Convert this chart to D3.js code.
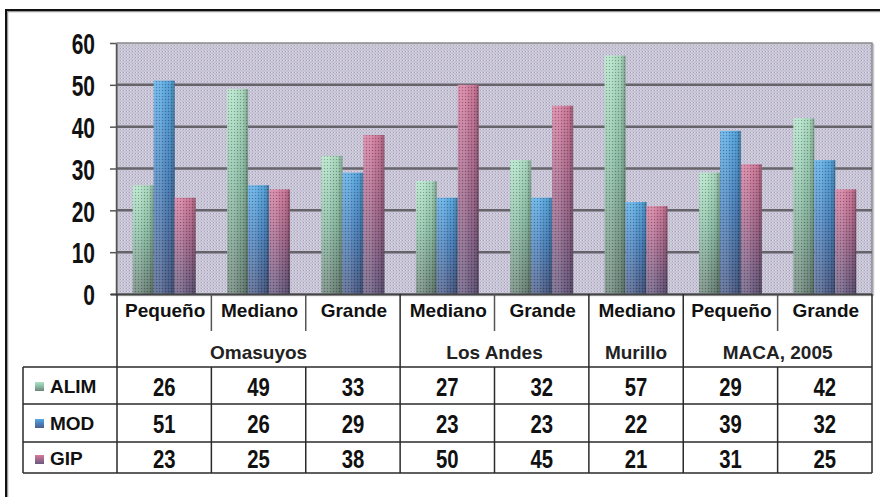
<!DOCTYPE html>
<html>
<head>
<meta charset="utf-8">
<script src="https://cdn.jsdelivr.net/npm/d3@7"></script>
<style>
  html, body { margin: 0; padding: 0; background: #fff; }
  svg { display: block; }
</style>
</head>
<body>
<svg id="chart" width="880" height="497"></svg>
<script>
// Data
const categories = ["Pequeño", "Mediano", "Grande", "Mediano", "Grande", "Mediano", "Pequeño", "Grande"];
const groupNames = ["Omasuyos", "Los Andes", "Murillo", "MACA, 2005"];
const groupSpans = [3, 2, 1, 2];
const seriesNames = ["ALIM", "MOD", "GIP"];
const alim = [26, 49, 33, 27, 32, 57, 29, 42];
const mod  = [51, 26, 29, 23, 23, 22, 39, 32];
const gip  = [23, 25, 38, 50, 45, 21, 31, 25];
const yTicks = [0, 10, 20, 30, 40, 50, 60];

const seriesValues = [alim, mod, gip];

// Layout
const plot = { left: 117, right: 872, top: 43, bottom: 294 };
const table = { left: 23, right: 872, catBase: 317, grpBase: 359, divShort: 331, rowLines: [367, 404, 442, 473] };
const rowBaselines = [396, 433, 468];
const rowCenters = [386, 423, 459];

const svg = d3.select("#chart");
const defs = svg.append("defs");

// Dithered plot background
const bg = defs.append("pattern").attr("id", "bgDots").attr("width", 3).attr("height", 3)
  .attr("patternUnits", "userSpaceOnUse");
bg.append("rect").attr("width", 3).attr("height", 3).attr("fill", "#cbc9d8");
bg.append("rect").attr("x", 0).attr("y", 0).attr("width", 1).attr("height", 1).attr("fill", "#a99cc2");
bg.append("rect").attr("x", 1.5).attr("y", 1.5).attr("width", 1).attr("height", 1).attr("fill", "#b5b1c9");
bg.append("rect").attr("x", 1).attr("y", 0).attr("width", 1).attr("height", 1).attr("fill", "#dadce2");

// Bar dither overlay
const bd = defs.append("pattern").attr("id", "barDots").attr("width", 3).attr("height", 3)
  .attr("patternUnits", "userSpaceOnUse");
bd.append("rect").attr("x", 0).attr("y", 0).attr("width", 1).attr("height", 1).attr("fill", "#000").attr("opacity", 0.28);
bd.append("rect").attr("x", 1.5).attr("y", 1.5).attr("width", 1).attr("height", 1).attr("fill", "#fff").attr("opacity", 0.22);

// Series colour ramps (top -> bottom)
const ramps = [
  ["#b0e2c6", "#8cbfa6", "#6c8479"],
  ["#58aae4", "#4a84c0", "#4d5d88"],
  ["#d47a9c", "#a6688c", "#685a80"]
];
ramps.forEach((r, i) => {
  const g = defs.append("linearGradient").attr("id", "vert" + i)
    .attr("x1", 0).attr("y1", 0).attr("x2", 0).attr("y2", 1);
  g.append("stop").attr("offset", "0%").attr("stop-color", r[0]);
  g.append("stop").attr("offset", "45%").attr("stop-color", r[1]);
  g.append("stop").attr("offset", "100%").attr("stop-color", r[2]);
});
// Cylinder shading across each bar
const hs = defs.append("linearGradient").attr("id", "shade")
  .attr("x1", 0).attr("y1", 0).attr("x2", 1).attr("y2", 0);
hs.append("stop").attr("offset", "0%").attr("stop-color", "#fff").attr("stop-opacity", 0.15);
hs.append("stop").attr("offset", "35%").attr("stop-color", "#fff").attr("stop-opacity", 0.12);
hs.append("stop").attr("offset", "75%").attr("stop-color", "#000").attr("stop-opacity", 0.05);
hs.append("stop").attr("offset", "100%").attr("stop-color", "#000").attr("stop-opacity", 0.3);

// Scales
const x0 = d3.scaleBand().domain(d3.range(categories.length)).range([plot.left, plot.right]).padding(0);
const x1 = d3.scaleBand().domain(d3.range(seriesNames.length)).range([0, x0.bandwidth()])
  .paddingInner(0).paddingOuter(0.75);
const y = d3.scaleLinear().domain([0, 60]).range([plot.bottom, plot.top]);

// Outer frame
svg.append("rect").attr("x", 7.5).attr("y", 11.5).attr("width", 890).attr("height", 500)
  .attr("fill", "none").attr("stroke", "#999").attr("stroke-width", 1.5);
svg.append("rect").attr("x", 6).attr("y", 10).attr("width", 890).attr("height", 500)
  .attr("fill", "none").attr("stroke", "#111").attr("stroke-width", 2);

// Plot background
svg.append("rect").attr("x", plot.left).attr("y", plot.top)
  .attr("width", plot.right - plot.left).attr("height", plot.bottom - plot.top)
  .attr("fill", "url(#bgDots)");
svg.append("rect").attr("x", plot.left + 1.5).attr("y", plot.top + 1.5)
  .attr("width", plot.right - plot.left).attr("height", plot.bottom - plot.top)
  .attr("fill", "none").attr("stroke", "#c8c8cc").attr("stroke-width", 1.5);
svg.append("rect").attr("x", plot.left).attr("y", plot.top)
  .attr("width", plot.right - plot.left).attr("height", plot.bottom - plot.top)
  .attr("fill", "none").attr("stroke", "#8a8890").attr("stroke-width", 1.5);

// Gridlines
svg.append("g").selectAll("line").data(yTicks.filter(t => t > 0 && t < 60)).join("line")
  .attr("x1", plot.left).attr("x2", plot.right)
  .attr("y1", d => y(d)).attr("y2", d => y(d))
  .attr("stroke", "#67636a").attr("stroke-width", 2.5);

// Bars
const barG = svg.append("g");
categories.forEach((c, ci) => {
  seriesValues.forEach((vals, si) => {
    const bx = x0(ci) + x1(si), bw = x1.bandwidth(), by = y(vals[ci]), bh = y(0) - y(vals[ci]);
    barG.append("rect").attr("x", bx).attr("y", by).attr("width", bw).attr("height", bh)
      .attr("fill", `url(#vert${si})`);
    barG.append("rect").attr("x", bx).attr("y", by).attr("width", bw).attr("height", bh)
      .attr("fill", "url(#shade)");
    barG.append("rect").attr("x", bx).attr("y", by).attr("width", bw).attr("height", bh)
      .attr("fill", "url(#barDots)");
  });
});

// Y axis (labels drawn in a condensed bold face)
const yAxis = d3.axisLeft(y).tickValues(yTicks).tickSize(6).tickPadding(15).tickSizeOuter(0);
const ya = svg.append("g").attr("transform", `translate(${plot.left - 1},0)`).call(yAxis);
ya.select(".domain").attr("stroke", "#555").attr("stroke-width", 1.5);
ya.selectAll(".tick line").attr("stroke", "#555").attr("stroke-width", 1.5);
ya.selectAll(".tick text")
  .attr("fill", "#111")
  .attr("x", 0)
  .attr("dy", "0.36em")
  .attr("transform", "translate(-21,0) scale(0.7,1)")
  .style("font-family", "'Liberation Sans', Arial, sans-serif")
  .style("font-weight", "bold")
  .style("font-size", "30px");

// X axis baseline
svg.append("line").attr("x1", plot.left - 6).attr("x2", plot.right)
  .attr("y1", plot.bottom + 0.5).attr("y2", plot.bottom + 0.5)
  .attr("stroke", "#444").attr("stroke-width", 2);

// Data table
const tbl = svg.append("g");
const lineColor = "#2a2a2a";
const tblFont = "'Liberation Sans', Arial, sans-serif";

// Group boundaries (index where each group starts)
const groupStarts = [];
groupSpans.reduce((acc, s) => { groupStarts.push(acc); return acc + s; }, 0);

// Vertical lines
for (let i = 0; i <= categories.length; i++) {
  const xx = i < categories.length ? x0(i) : plot.right;
  const isGroupEdge = i === categories.length || groupStarts.includes(i);
  if (isGroupEdge) {
    tbl.append("line").attr("x1", xx).attr("x2", xx).attr("y1", plot.bottom).attr("y2", table.rowLines[3])
      .attr("stroke", lineColor).attr("stroke-width", 1.5);
  } else {
    tbl.append("line").attr("x1", xx).attr("x2", xx).attr("y1", plot.bottom).attr("y2", table.divShort)
      .attr("stroke", "#555").attr("stroke-width", 1.5);
    tbl.append("line").attr("x1", xx).attr("x2", xx).attr("y1", table.rowLines[0]).attr("y2", table.rowLines[3])
      .attr("stroke", lineColor).attr("stroke-width", 1.5);
  }
}
// Left edge of the series rows
tbl.append("line").attr("x1", table.left).attr("x2", table.left)
  .attr("y1", table.rowLines[0]).attr("y2", table.rowLines[3])
  .attr("stroke", lineColor).attr("stroke-width", 1.5);
// Horizontal lines
table.rowLines.forEach(ly => {
  tbl.append("line").attr("x1", table.left).attr("x2", table.right).attr("y1", ly).attr("y2", ly)
    .attr("stroke", lineColor).attr("stroke-width", 1.5);
});

// Category labels
tbl.selectAll("text.cat").data(categories).join("text").attr("class", "cat")
  .attr("x", (d, i) => x0(i) + x0.bandwidth() / 2 + 1)
  .attr("y", table.catBase)
  .attr("text-anchor", "middle")
  .style("font-family", tblFont).style("font-weight", "bold").style("font-size", "19px")
  .attr("fill", "#111")
  .text(d => d);

// Group labels
tbl.selectAll("text.grp").data(groupNames).join("text").attr("class", "grp")
  .attr("x", (d, i) => {
    const a = x0(groupStarts[i]);
    const endIdx = groupStarts[i] + groupSpans[i];
    const b = endIdx < categories.length ? x0(endIdx) : plot.right;
    return (a + b) / 2;
  })
  .attr("y", table.grpBase)
  .attr("text-anchor", "middle")
  .style("font-family", tblFont).style("font-weight", "bold").style("font-size", "19px")
  .attr("fill", "#222")
  .text(d => d);

// Series rows: legend key, name and values
seriesNames.forEach((name, si) => {
  tbl.append("rect").attr("x", 35).attr("y", rowCenters[si] - 4).attr("width", 9).attr("height", 9)
    .attr("fill", `url(#vert${si})`);
  tbl.append("text").attr("x", 50).attr("y", rowBaselines[si] - 3)
    .style("font-family", tblFont).style("font-weight", "bold").style("font-size", "19px")
    .attr("fill", "#111").text(name);
  tbl.selectAll(`text.v${si}`).data(seriesValues[si]).join("text").attr("class", `v${si}`)
    .attr("x", 0).attr("y", 0)
    .attr("transform", (d, i) => `translate(${x0(i) + x0.bandwidth() / 2},${rowBaselines[si]}) scale(0.78,1)`)
    .attr("text-anchor", "middle")
    .style("font-family", tblFont).style("font-weight", "bold").style("font-size", "26px")
    .attr("fill", "#111")
    .text(d => d);
});
</script>
</body>
</html>
